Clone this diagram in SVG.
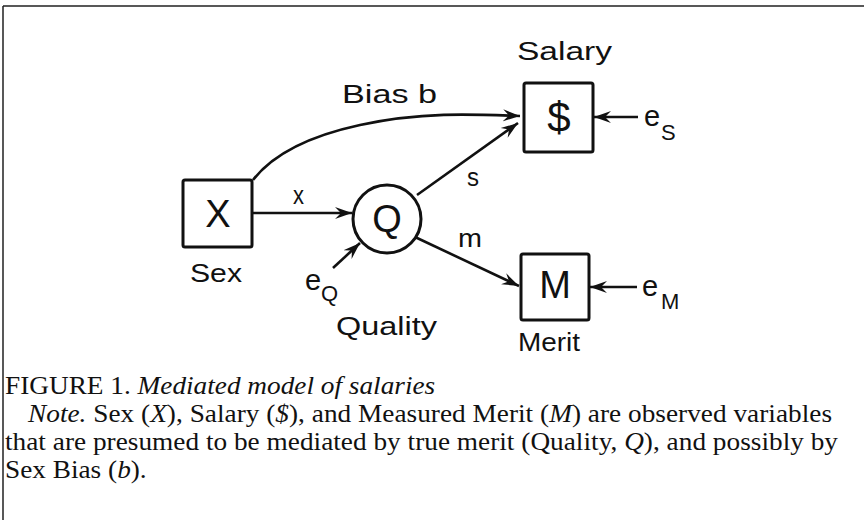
<svg xmlns="http://www.w3.org/2000/svg" width="864" height="520" viewBox="0 0 864 520">
<defs>
<marker id="ah" markerUnits="userSpaceOnUse" markerWidth="18" markerHeight="13" refX="17" refY="6.5" orient="auto" viewBox="0 0 18 13">
<path d="M0,0.5 L17,6.5 L0,12.5 L6,6.5 Z" fill="#111"/>
</marker>
<style>
.lbl{font-family:"Liberation Sans","DejaVu Sans",sans-serif;font-size:26px;fill:#111}
.e{font-family:"Liberation Sans","DejaVu Sans",sans-serif;font-size:29px;fill:#111}
.big{font-family:"Liberation Sans","DejaVu Sans",sans-serif;font-size:38px;fill:#111;text-anchor:middle}
.sub{font-family:"Liberation Sans","DejaVu Sans",sans-serif;font-size:22px;fill:#111}
.box{fill:none;stroke:#111;stroke-width:3}
.edge{fill:none;stroke:#111;stroke-width:2.6;marker-end:url(#ah)}
.cap{font-family:"Liberation Serif","Times New Roman",serif;font-size:25.5px;fill:#111}
.it{font-style:italic}
</style>
</defs>
<rect width="864" height="520" fill="#fff"/>
<g id="frame" stroke="#222" stroke-width="1.5" fill="none">
<path d="M3,6 L864,6 M3,6 L3,520"/>
</g>
<g id="connectors">
<path class="edge" d="M253,180 C270,158 300,138 360,125 C420,112 470,114 520,116"/>
<path class="edge" d="M253,213 L352,213"/>
<path class="edge" d="M417,195 L518,123"/>
<path class="edge" d="M415,237 L519,286"/>
<path class="edge" d="M333,268 L360,243"/>
<path class="edge" d="M638,117 L594,117"/>
<path class="edge" d="M637,287 L590,287"/>
</g>
<g id="labels">
<text class="lbl" x="342" y="103" textLength="95" lengthAdjust="spacingAndGlyphs">Bias b</text>
<text class="lbl" x="293" y="204" textLength="11" lengthAdjust="spacingAndGlyphs">x</text>
<text class="lbl" x="467" y="186" textLength="12" lengthAdjust="spacingAndGlyphs">s</text>
<text class="lbl" x="458" y="247" textLength="24" lengthAdjust="spacingAndGlyphs">m</text>
</g>
<g id="node-sex">
<rect class="box" x="183" y="180" width="69" height="67" rx="2"/>
<text class="big" x="218" y="227">X</text>
<text class="lbl" x="190" y="282" textLength="52" lengthAdjust="spacingAndGlyphs">Sex</text>
</g>
<g id="node-quality">
<circle cx="387" cy="219" r="34" fill="none" stroke="#111" stroke-width="3"/>
<text class="big" x="387" y="232">Q</text>
<text class="lbl" x="336" y="335" textLength="101" lengthAdjust="spacingAndGlyphs">Quality</text>
</g>
<g id="node-eq">
<text class="e" x="305" y="290">e</text>
<text class="sub" x="321" y="301">Q</text>
</g>
<g id="node-salary">
<rect class="box" x="524" y="83" width="69" height="69" rx="2"/>
<text class="big" x="559" y="132" style="font-size:42px">$</text>
<text class="lbl" x="517" y="60" textLength="95" lengthAdjust="spacingAndGlyphs">Salary</text>
</g>
<g id="node-es">
<text class="e" x="644" y="126">e</text>
<text class="sub" x="661" y="140">S</text>
</g>
<g id="node-merit">
<rect class="box" x="521" y="254" width="68" height="66" rx="2"/>
<text class="big" x="555" y="298">M</text>
<text class="lbl" x="518" y="351" textLength="62" lengthAdjust="spacingAndGlyphs">Merit</text>
</g>
<g id="node-em">
<text class="e" x="642" y="296">e</text>
<text class="sub" x="661" y="309">M</text>
</g>
<g id="caption" transform="scale(1.07,1)">
<text class="cap" x="4.7" y="394">FIGURE 1.  <tspan class="it">Mediated model of salaries</tspan></text>
<text class="cap" x="26.2" y="422" textLength="751.4" lengthAdjust="spacing"><tspan class="it">Note.</tspan> Sex (<tspan class="it">X</tspan>), Salary (<tspan class="it">$</tspan>), and Measured Merit (<tspan class="it">M</tspan>) are observed variables</text>
<text class="cap" x="4.7" y="450" textLength="778.5" lengthAdjust="spacing">that are presumed to be mediated by true merit (Quality, <tspan class="it">Q</tspan>), and possibly by</text>
<text class="cap" x="4.7" y="478">Sex Bias (<tspan class="it">b</tspan>).</text>
</g>
</svg>
